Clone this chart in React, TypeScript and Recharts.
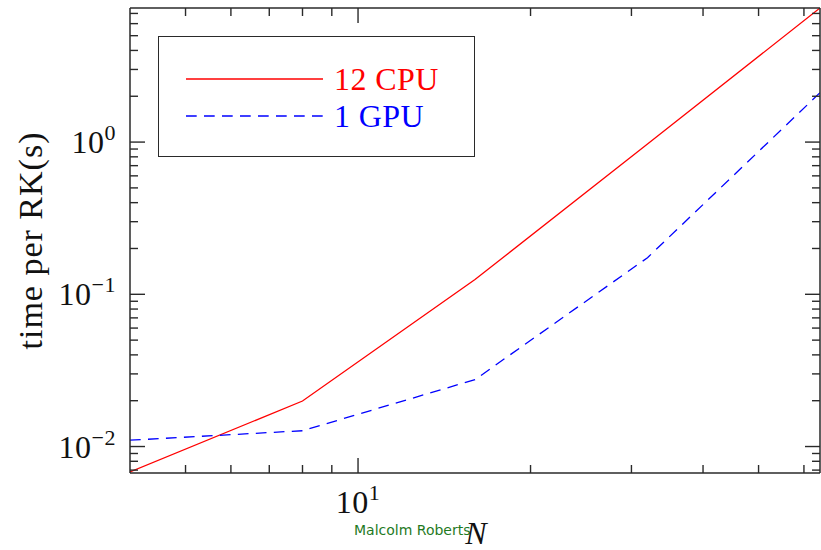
import React from 'react';
import { LineChart, Line, XAxis, YAxis, Legend } from 'recharts';

const nValues = [4, 8, 16, 32, 64];
const cpu12 = [0.0068, 0.0199, 0.125, 0.97, 7.6];
const gpu1 = [0.011, 0.0127, 0.0275, 0.174, 2.11];
const seriesNames = ['12 CPU', '1 GPU'];
const xTicks = [5, 6, 7, 8, 9, 10, 20, 30, 40, 50, 60];
const yTicks = [
  0.007, 0.008, 0.009, 0.01, 0.02, 0.03, 0.04, 0.05, 0.06, 0.07, 0.08, 0.09,
  0.1, 0.2, 0.3, 0.4, 0.5, 0.6, 0.7, 0.8, 0.9, 1, 2, 3, 4, 5, 6, 7,
];
const xDomain = [4, 64];
const yDomain = [0.0067, 7.6];
const xLabel = 'N';
const yLabel = 'time per RK(s)';
const author = 'Malcolm Roberts';

const data = nValues.map((n, i) => ({ N: n, cpu: cpu12[i], gpu: gpu1[i] }));

const FRAME = '#2a2a2a';
const SERIF = '"Liberation Serif", "Times New Roman", serif';

const isMajor = (v: number) => {
  const l = Math.log10(v);
  return Math.abs(l - Math.round(l)) < 1e-6;
};
const expText = (v: number) => {
  const e = Math.round(Math.log10(v));
  return e < 0 ? '\u2212' + Math.abs(e) : String(e);
};

const XTick = (side: 'bottom' | 'top') => (props: any) => {
  const { x, y, payload } = props;
  const v = payload.value;
  const major = isMajor(v);
  const len = major ? 15 : 8;
  const dir = side === 'bottom' ? -1 : 1;
  return (
    <g>
      <line x1={x} x2={x} y1={y} y2={y + dir * len} stroke={FRAME} strokeWidth={1.4} />
      {side === 'bottom' && major && (
        <text x={x} y={y + 40} textAnchor="middle" fontFamily={SERIF} fontSize={32} letterSpacing={0.5} fill="#111">
          10
          <tspan dy={-13} fontSize={22}>{expText(v)}</tspan>
        </text>
      )}
    </g>
  );
};

const YTick = (side: 'left' | 'right') => (props: any) => {
  const { x, y, payload } = props;
  const v = payload.value;
  const major = isMajor(v);
  const len = major ? 15 : 8;
  const dir = side === 'left' ? 1 : -1;
  return (
    <g>
      <line x1={x} x2={x + dir * len} y1={y} y2={y} stroke={FRAME} strokeWidth={1.4} />
      {side === 'left' && major && (
        <text x={x - 14} y={y + 11} textAnchor="end" fontFamily={SERIF} fontSize={32} letterSpacing={0.5} fill="#111">
          10
          <tspan dy={-13} fontSize={22}>{expText(v)}</tspan>
        </text>
      )}
    </g>
  );
};

const YLabelContent = (props: any) => {
  const { viewBox } = props;
  const cx = viewBox.x - 99;
  const cy = viewBox.y + viewBox.height / 2;
  return (
    <text
      x={cx}
      y={cy}
      transform={`rotate(-90 ${cx} ${cy})`}
      textAnchor="middle"
      dominantBaseline="central"
      fontFamily={SERIF}
      fontSize={34}
      letterSpacing={1}
      fill="#111"
    >
      {yLabel}
    </text>
  );
};

const XLabelContent = (props: any) => {
  const { viewBox } = props;
  const cx = viewBox.x + viewBox.width / 2;
  const by = viewBox.y;
  return (
    <g>
      <text x={cx - 121} y={by + 62} fontFamily='"DejaVu Sans", sans-serif' fontSize={14} fill="#1f7a1f">
        {author}
      </text>
      <text x={cx + 1} y={by + 71} textAnchor="middle" fontFamily={SERIF} fontStyle="italic" fontSize={32} fill="#111">
        {xLabel}
      </text>
    </g>
  );
};

const LegendContent = (props: any) => {
  const raw = props.payload || [];
  const payload = seriesNames
    .map((n) => raw.find((p: any) => p.value === n))
    .filter(Boolean);
  return (
    <div
      style={{
        width: 317,
        height: 121,
        border: `1.4px solid ${FRAME}`,
        boxSizing: 'border-box',
        background: '#fff',
      }}
    >
      <svg width={315} height={119} style={{ display: 'block' }}>
        {payload.map((p: any, i: number) => (
          <g key={i}>
            <line
              x1={27}
              x2={164}
              y1={42 + i * 37}
              y2={42 + i * 37}
              stroke={p.color}
              strokeWidth={1.3}
              strokeDasharray={p.payload?.strokeDasharray}
            />
            <text x={175} y={53 + i * 37} fill={p.color} fontFamily={SERIF} fontSize={32} letterSpacing={0.4}>
              {p.value}
            </text>
          </g>
        ))}
      </svg>
    </div>
  );
};

export default function App() {
  return (
    <div style={{ position: 'absolute', left: 0, top: 0, width: 821, height: 550, background: '#fff' }}>
      <LineChart width={821} height={550} data={data} margin={{ top: 7, right: 0, bottom: 76, left: 129 }}>
        <XAxis
          xAxisId="b"
          dataKey="N"
          type="number"
          scale="log"
          domain={xDomain}
          allowDataOverflow
          ticks={xTicks}
          interval={0}
          height={1}
          tickSize={0}
          tickMargin={0}
          tickLine={false}
          tick={XTick('bottom')}
          axisLine={{ stroke: FRAME, strokeWidth: 1.5 }}
          label={{ content: XLabelContent }}
        />
        <XAxis
          xAxisId="t"
          orientation="top"
          dataKey="N"
          type="number"
          scale="log"
          domain={xDomain}
          allowDataOverflow
          ticks={xTicks}
          interval={0}
          height={1}
          tickSize={0}
          tickMargin={0}
          tickLine={false}
          tick={XTick('top')}
          axisLine={{ stroke: FRAME, strokeWidth: 1.5 }}
        />
        <YAxis
          yAxisId="l"
          type="number"
          scale="log"
          domain={yDomain}
          allowDataOverflow
          ticks={yTicks}
          interval={0}
          width={1}
          tickSize={0}
          tickMargin={0}
          tickLine={false}
          tick={YTick('left')}
          axisLine={{ stroke: FRAME, strokeWidth: 1.5 }}
          label={{ content: YLabelContent }}
        />
        <YAxis
          yAxisId="r"
          orientation="right"
          type="number"
          scale="log"
          domain={yDomain}
          allowDataOverflow
          ticks={yTicks}
          interval={0}
          width={1}
          tickSize={0}
          tickMargin={0}
          tickLine={false}
          tick={YTick('right')}
          axisLine={{ stroke: FRAME, strokeWidth: 1.5 }}
        />
        <Legend
          layout="horizontal"
          verticalAlign="middle"
          align="center"
          content={LegendContent}
          wrapperStyle={{ position: 'absolute', left: 158, top: 36, width: 317, height: 121 }}
        />
        <Line
          xAxisId="b"
          yAxisId="l"
          type="linear"
          dataKey="cpu"
          name={seriesNames[0]}
          stroke="#ff0000"
          strokeWidth={1.3}
          dot={false}
          isAnimationActive={false}
        />
        <Line
          xAxisId="b"
          yAxisId="l"
          type="linear"
          dataKey="gpu"
          name={seriesNames[1]}
          stroke="#0000ff"
          strokeWidth={1.3}
          strokeDasharray="10.7 7.3"
          dot={false}
          isAnimationActive={false}
        />
      </LineChart>
    </div>
  );
}
